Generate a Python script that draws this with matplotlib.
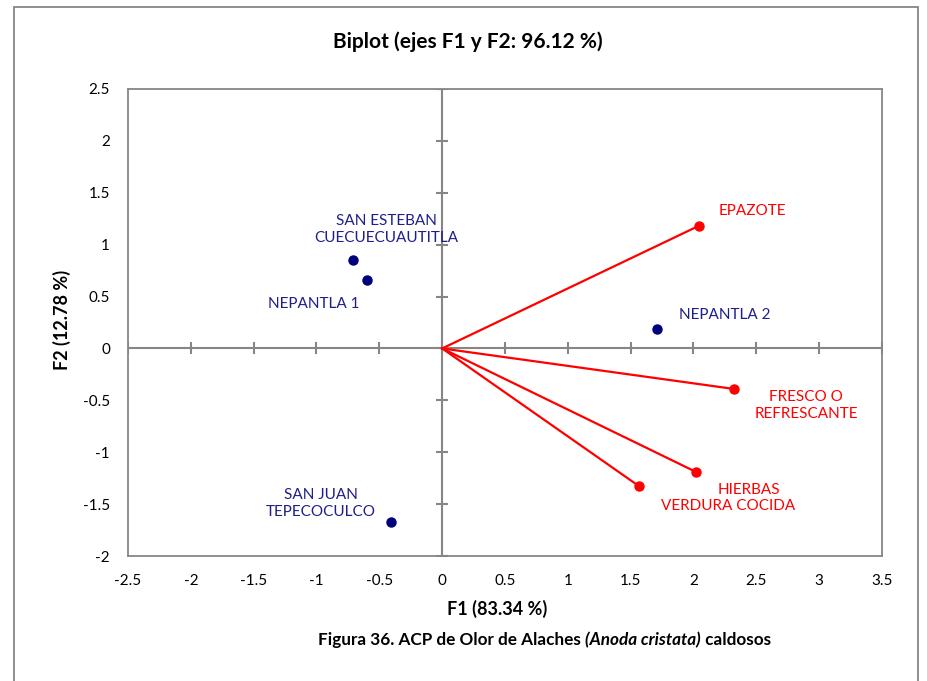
import numpy as np
import matplotlib.pyplot as plt
from matplotlib.patches import Rectangle

plt.rcParams['font.family'] = ['Lato', 'DejaVu Sans']

# observaciones (F1, F2)
obs_names = ['SAN ESTEBAN\nCUECUECUAUTITLA', 'NEPANTLA 1', 'SAN JUAN\nTEPECOCULCO', 'NEPANTLA 2']
obs_f1 = [-0.71, -0.60, -0.41, 1.71]
obs_f2 = [0.85, 0.66, -1.67, 0.19]

# variables (F1, F2)
var_names = ['EPAZOTE', 'FRESCO O\nREFRESCANTE', 'HIERBAS', 'VERDURA COCIDA']
var_f1 = [2.04, 2.32, 2.02, 1.57]
var_f2 = [1.18, -0.39, -1.19, -1.33]

xticks = [-2.5, -2, -1.5, -1, -0.5, 0, 0.5, 1, 1.5, 2, 2.5, 3, 3.5]
yticks = [-2, -1.5, -1, -0.5, 0, 0.5, 1, 1.5, 2, 2.5]

# desplazamientos de etiquetas (puntos)
obs_off = [(24, 22), (-38, -17), (-50, 13), (49, 10)]
var_off = [(39, 11), (52, -12), (38, -13), (64, -14)]

navy = '#00007a'
navy_txt = '#1f1f8c'
red = '#ff0000'
gris = '#868686'

fig = plt.figure(figsize=(9.28, 6.81), dpi=100)
fig.patches.append(Rectangle((14 / 928, -0.05), 904 / 928, 1 - 7 / 681 + 0.05,
                             transform=fig.transFigure, fill=False,
                             edgecolor=gris, lw=1.3))
ax = fig.add_axes([128 / 928, 1 - 556 / 681, 754 / 928, 467 / 681])

ax.set_xlim(-2.5, 3.5)
ax.set_ylim(-2, 2.5)
ax.set_xticks(xticks)
ax.set_yticks(yticks)
ax.set_xticklabels([f'{t:g}' for t in xticks])
ax.set_yticklabels([f'{t:g}' for t in yticks])
ax.tick_params(length=0, pad=13, labelsize=11)
for s in ax.spines.values():
    s.set_color(gris)
    s.set_linewidth(1.3)

# ejes centrales con marcas
ax.axhline(0, color=gris, lw=1.5, zorder=1)
ax.axvline(0, color=gris, lw=1.5, zorder=1)
ax.plot(xticks, [0] * len(xticks), ls='none', marker='|', ms=8, mew=1.5, color=gris, zorder=1)
ax.plot([0] * len(yticks), yticks, ls='none', marker='_', ms=8, mew=1.5, color=gris, zorder=1)

# vectores
for x, y, name, off in zip(var_f1, var_f2, var_names, var_off):
    ax.plot([0, x], [0, y], color=red, lw=1.6, zorder=2)
    ax.plot(x, y, 'o', color=red, ms=6.5, zorder=3)
    ax.annotate(name, (x, y), xytext=off, textcoords='offset points',
                ha='center', va='center', color=red, fontsize=11,
                linespacing=1.25)

# observaciones
ax.plot(obs_f1, obs_f2, 'o', color=navy, ms=6.5, ls='none', zorder=3)
for x, y, name, off in zip(obs_f1, obs_f2, obs_names, obs_off):
    ax.annotate(name, (x, y), xytext=off, textcoords='offset points',
                ha='center', va='center', color=navy_txt, fontsize=11,
                linespacing=1.25)

fig.text(468 / 928, 1 - 42 / 681, 'Biplot (ejes F1 y F2: 96.12 %)',
         ha='center', va='center', fontsize=15, weight='bold')
fig.text(497 / 928, 1 - 609 / 681, 'F1 (83.34 %)',
         ha='center', va='center', fontsize=13, weight='bold')
fig.text(62 / 928, 1 - 320 / 681, 'F2 (12.78 %)', rotation=90,
         ha='center', va='center', fontsize=13, weight='bold')

# pie de figura
t1 = fig.text(318 / 928, 1 - 640 / 681, 'Figura 36. ACP de Olor de Alaches ',
              ha='left', va='center', fontsize=12.3, weight='bold')
t2 = fig.text(0, 0, '(Anoda cristata)', fontsize=12.3, weight='bold', style='italic')
t3 = fig.text(0, 0, ' caldosos', fontsize=12.3, weight='bold')
fig.canvas.draw()
r = fig.canvas.get_renderer()
bb = t1.get_window_extent(r)
y0 = t1.get_position()[1]
t2.set_position((bb.x1 / fig.bbox.width, y0))
t2.set_va('center')
fig.canvas.draw()
bb2 = t2.get_window_extent(r)
t3.set_position((bb2.x1 / fig.bbox.width, y0))
t3.set_va('center')

fig.savefig('out.png', dpi=100)
